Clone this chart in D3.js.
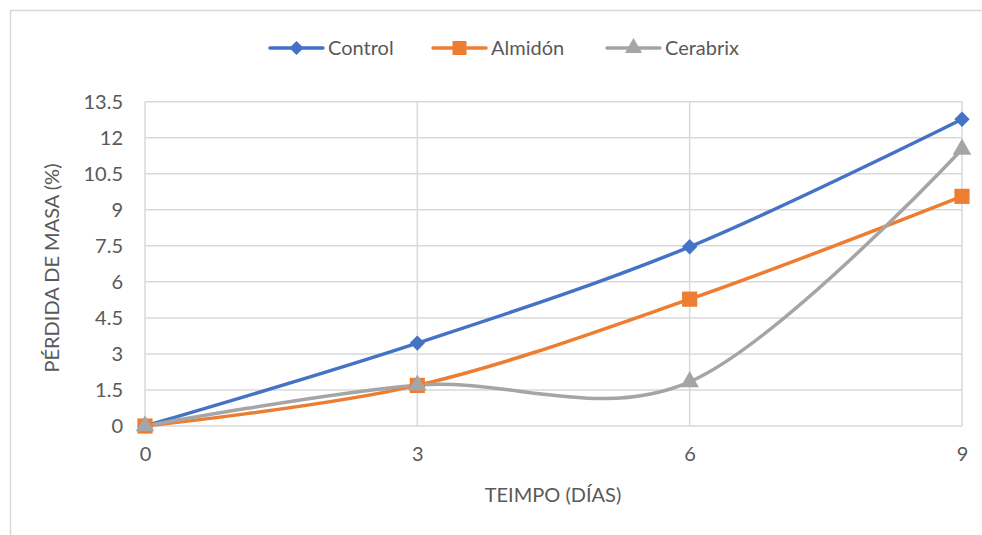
<!DOCTYPE html>
<html>
<head>
<meta charset="utf-8">
<script src="https://cdn.jsdelivr.net/npm/d3@7"></script>
<style>
  body { margin: 0; background: #fff; }
  text { font-family: Lato, "Open Sans", sans-serif; fill: #595959; }
</style>
</head>
<body>
<div id="chart"></div>
<script>
// data
const days = [0, 3, 6, 9];
const control = [0, 3.45, 7.46, 12.77];
const almidon = [0, 1.69, 5.28, 9.56];
const cerabrix = [0, 1.7, 1.84, 11.52];
const yTicks = [0, 1.5, 3, 4.5, 6, 7.5, 9, 10.5, 12, 13.5];

const series = [
  { name: 'Control', values: control, color: '#4472C4', symbol: d3.symbolDiamond2, size: 150 },
  { name: 'Almidón', values: almidon, color: '#ED7D31', symbol: d3.symbolSquare, size: 230 },
  { name: 'Cerabrix', values: cerabrix, color: '#A5A5A5', symbol: d3.symbolTriangle, size: 150 }
];

const width = 982, height = 535;
const fontSize = '20px';

const svg = d3.select('#chart')
  .append('svg')
  .attr('width', width)
  .attr('height', height);

// chart frame (right and bottom edges fall outside the crop)
svg.append('rect')
  .attr('x', 10.5).attr('y', 10.5)
  .attr('width', 1000).attr('height', 600)
  .attr('fill', 'none')
  .attr('stroke', '#d9d9d9')
  .attr('stroke-width', 1.5);

const x = d3.scaleLinear().domain([0, 9]).range([145, 962]);
const y = d3.scaleLinear().domain([0, 13.5]).range([426, 101.7]);

// grid lines
svg.append('g')
  .selectAll('line')
  .data(yTicks)
  .enter()
  .append('line')
  .attr('x1', x(0)).attr('x2', x(9))
  .attr('y1', d => y(d)).attr('y2', d => y(d))
  .style('stroke', '#d9d9d9')
  .style('stroke-width', 1.5);

svg.append('g')
  .selectAll('line')
  .data(days)
  .enter()
  .append('line')
  .attr('x1', d => x(d)).attr('x2', d => x(d))
  .attr('y1', y(0)).attr('y2', y(13.5))
  .style('stroke', '#d9d9d9')
  .style('stroke-width', 1.5);

// axes (labels only, lines come from the grid)
const yAxis = svg.append('g')
  .attr('transform', `translate(${x(0)},0)`)
  .call(d3.axisLeft(y).tickValues(yTicks).tickSize(0).tickPadding(22).tickFormat(d3.format('~g')));
yAxis.select('.domain').remove();
yAxis.selectAll('text').style('font-size', fontSize).attr('fill', '#595959');

const xAxis = svg.append('g')
  .attr('transform', `translate(0,${y(0)})`)
  .call(d3.axisBottom(x).tickValues(days).tickSize(0).tickPadding(21));
xAxis.select('.domain').remove();
xAxis.selectAll('text').style('font-size', fontSize).attr('fill', '#595959');

// axis titles
svg.append('text')
  .attr('transform', 'translate(59,268) rotate(-90)')
  .attr('text-anchor', 'middle')
  .style('font-size', fontSize)
  .text('PÉRDIDA DE MASA (%)');

svg.append('text')
  .attr('x', 553).attr('y', 502)
  .attr('text-anchor', 'middle')
  .style('font-size', fontSize)
  .text('TEIMPO (DÍAS)');

// lines, smoothed like the spreadsheet
const line = d3.line()
  .x((d, i) => x(days[i]))
  .y(d => y(d))
  .curve(d3.curveCardinal.tension(0));

series.forEach(s => {
  svg.append('path')
    .datum(s.values)
    .attr('d', line)
    .attr('fill', 'none')
    .attr('stroke', s.color)
    .attr('stroke-width', 3.5)
    .attr('stroke-linecap', 'round');
});

series.forEach(s => {
  svg.append('g')
    .selectAll('path')
    .data(s.values)
    .enter()
    .append('path')
    .attr('d', d3.symbol().type(s.symbol).size(s.size))
    .attr('transform', (d, i) => `translate(${x(days[i])},${y(d)})`)
    .attr('fill', s.color);
});

// legend
const legendX = [270, 433, 607];
const legend = svg.append('g')
  .selectAll('g')
  .data(series)
  .enter()
  .append('g')
  .attr('transform', (d, i) => `translate(${legendX[i]},48)`);

legend.append('line')
  .attr('x1', 0).attr('x2', 53)
  .attr('stroke', d => d.color)
  .attr('stroke-width', 3.5)
  .attr('stroke-linecap', 'round');

legend.append('path')
  .attr('d', d => d3.symbol().type(d.symbol).size(d.size * 0.85)())
  .attr('transform', 'translate(26.5,0)')
  .attr('fill', d => d.color);

legend.append('text')
  .attr('x', 58).attr('dy', '0.35em')
  .style('font-size', fontSize)
  .text(d => d.name);
</script>
</body>
</html>
